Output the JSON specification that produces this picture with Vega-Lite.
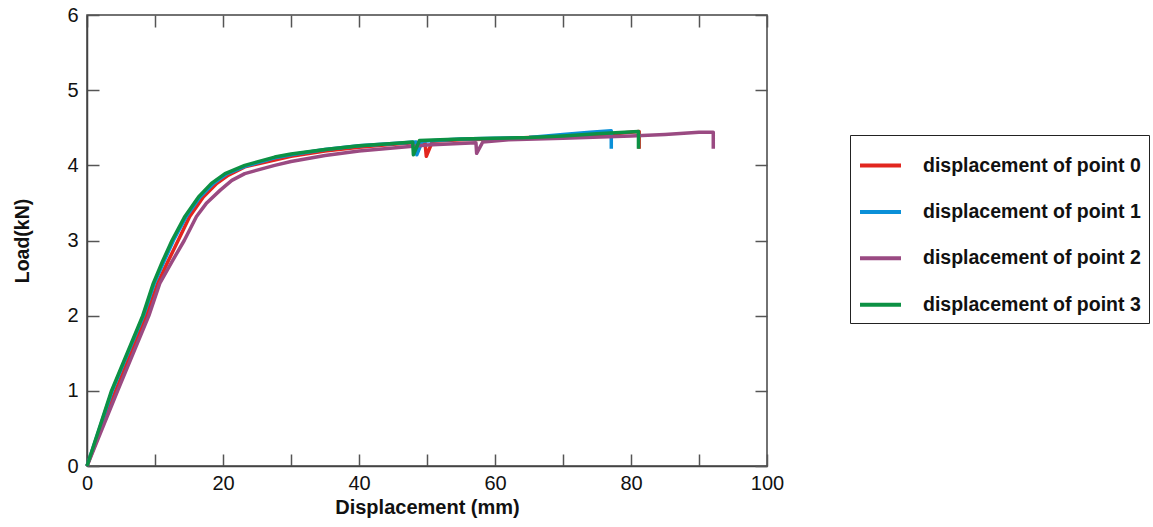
{
  "$schema": "https://vega.github.io/schema/vega-lite/v6.json",
  "width": 680,
  "height": 451,
  "padding": {"left": 87, "top": 15, "right": 386, "bottom": 61},
  "autosize": {"type": "none"},
  "background": "white",
  "config": {
    "view": {"stroke": "#444", "strokeWidth": 1.5},
    "font": "Liberation Sans",
    "axis": {"labelFont": "Liberation Sans", "titleFont": "Liberation Sans", "labelColor": "#111", "titleColor": "#111", "grid": false},
    "legend": {"labelFont": "Liberation Sans"}
  },
  "data": {"values": [
    {"s": "displacement of point 0", "i": 0, "x": 0, "y": 0},
    {"s": "displacement of point 0", "i": 1, "x": 4.2, "y": 1},
    {"s": "displacement of point 0", "i": 2, "x": 8.7, "y": 2},
    {"s": "displacement of point 0", "i": 3, "x": 10.4, "y": 2.43},
    {"s": "displacement of point 0", "i": 4, "x": 11.9, "y": 2.72},
    {"s": "displacement of point 0", "i": 5, "x": 13.4, "y": 3},
    {"s": "displacement of point 0", "i": 6, "x": 15.1, "y": 3.32},
    {"s": "displacement of point 0", "i": 7, "x": 17.1, "y": 3.58},
    {"s": "displacement of point 0", "i": 8, "x": 19.1, "y": 3.76},
    {"s": "displacement of point 0", "i": 9, "x": 20.8, "y": 3.87},
    {"s": "displacement of point 0", "i": 10, "x": 23.2, "y": 3.98},
    {"s": "displacement of point 0", "i": 11, "x": 27.6, "y": 4.07},
    {"s": "displacement of point 0", "i": 12, "x": 30, "y": 4.12},
    {"s": "displacement of point 0", "i": 13, "x": 35, "y": 4.19},
    {"s": "displacement of point 0", "i": 14, "x": 40, "y": 4.24},
    {"s": "displacement of point 0", "i": 15, "x": 45, "y": 4.28},
    {"s": "displacement of point 0", "i": 16, "x": 49.7, "y": 4.31},
    {"s": "displacement of point 0", "i": 17, "x": 49.9, "y": 4.12},
    {"s": "displacement of point 0", "i": 18, "x": 50.8, "y": 4.32},
    {"s": "displacement of point 0", "i": 19, "x": 55, "y": 4.34},
    {"s": "displacement of point 0", "i": 20, "x": 60, "y": 4.35},
    {"s": "displacement of point 0", "i": 21, "x": 65, "y": 4.37},
    {"s": "displacement of point 0", "i": 22, "x": 70, "y": 4.38},
    {"s": "displacement of point 0", "i": 23, "x": 75, "y": 4.4},
    {"s": "displacement of point 0", "i": 24, "x": 81.2, "y": 4.45},
    {"s": "displacement of point 0", "i": 25, "x": 81.2, "y": 4.22},

    {"s": "displacement of point 1", "i": 0, "x": 0, "y": 0},
    {"s": "displacement of point 1", "i": 1, "x": 3.7, "y": 1},
    {"s": "displacement of point 1", "i": 2, "x": 8.3, "y": 2},
    {"s": "displacement of point 1", "i": 3, "x": 9.9, "y": 2.43},
    {"s": "displacement of point 1", "i": 4, "x": 11.3, "y": 2.72},
    {"s": "displacement of point 1", "i": 5, "x": 12.7, "y": 3},
    {"s": "displacement of point 1", "i": 6, "x": 14.6, "y": 3.32},
    {"s": "displacement of point 1", "i": 7, "x": 16.6, "y": 3.58},
    {"s": "displacement of point 1", "i": 8, "x": 18.6, "y": 3.76},
    {"s": "displacement of point 1", "i": 9, "x": 20.6, "y": 3.89},
    {"s": "displacement of point 1", "i": 10, "x": 23.3, "y": 3.99},
    {"s": "displacement of point 1", "i": 11, "x": 27.6, "y": 4.1},
    {"s": "displacement of point 1", "i": 12, "x": 30, "y": 4.14},
    {"s": "displacement of point 1", "i": 13, "x": 35, "y": 4.21},
    {"s": "displacement of point 1", "i": 14, "x": 40, "y": 4.26},
    {"s": "displacement of point 1", "i": 15, "x": 45, "y": 4.29},
    {"s": "displacement of point 1", "i": 16, "x": 48.4, "y": 4.31},
    {"s": "displacement of point 1", "i": 17, "x": 48.5, "y": 4.14},
    {"s": "displacement of point 1", "i": 18, "x": 49.3, "y": 4.32},
    {"s": "displacement of point 1", "i": 19, "x": 55, "y": 4.35},
    {"s": "displacement of point 1", "i": 20, "x": 60, "y": 4.36},
    {"s": "displacement of point 1", "i": 21, "x": 65, "y": 4.37},
    {"s": "displacement of point 1", "i": 22, "x": 70, "y": 4.41},
    {"s": "displacement of point 1", "i": 23, "x": 74, "y": 4.44},
    {"s": "displacement of point 1", "i": 24, "x": 77.1, "y": 4.46},
    {"s": "displacement of point 1", "i": 25, "x": 77.1, "y": 4.22},

    {"s": "displacement of point 2", "i": 0, "x": 0, "y": 0},
    {"s": "displacement of point 2", "i": 1, "x": 4.5, "y": 1},
    {"s": "displacement of point 2", "i": 2, "x": 9.1, "y": 2},
    {"s": "displacement of point 2", "i": 3, "x": 10.7, "y": 2.43},
    {"s": "displacement of point 2", "i": 4, "x": 12.5, "y": 2.72},
    {"s": "displacement of point 2", "i": 5, "x": 14.3, "y": 3},
    {"s": "displacement of point 2", "i": 6, "x": 16.1, "y": 3.32},
    {"s": "displacement of point 2", "i": 7, "x": 17.6, "y": 3.5},
    {"s": "displacement of point 2", "i": 8, "x": 19.6, "y": 3.67},
    {"s": "displacement of point 2", "i": 9, "x": 21.3, "y": 3.8},
    {"s": "displacement of point 2", "i": 10, "x": 23.2, "y": 3.89},
    {"s": "displacement of point 2", "i": 11, "x": 27.6, "y": 4.0},
    {"s": "displacement of point 2", "i": 12, "x": 30, "y": 4.05},
    {"s": "displacement of point 2", "i": 13, "x": 35, "y": 4.13},
    {"s": "displacement of point 2", "i": 14, "x": 40, "y": 4.19},
    {"s": "displacement of point 2", "i": 15, "x": 45, "y": 4.23},
    {"s": "displacement of point 2", "i": 16, "x": 50, "y": 4.27},
    {"s": "displacement of point 2", "i": 17, "x": 57.2, "y": 4.3},
    {"s": "displacement of point 2", "i": 18, "x": 57.3, "y": 4.16},
    {"s": "displacement of point 2", "i": 19, "x": 58.2, "y": 4.31},
    {"s": "displacement of point 2", "i": 20, "x": 62, "y": 4.34},
    {"s": "displacement of point 2", "i": 21, "x": 70, "y": 4.36},
    {"s": "displacement of point 2", "i": 22, "x": 80, "y": 4.39},
    {"s": "displacement of point 2", "i": 23, "x": 85, "y": 4.41},
    {"s": "displacement of point 2", "i": 24, "x": 90, "y": 4.44},
    {"s": "displacement of point 2", "i": 25, "x": 92.1, "y": 4.44},
    {"s": "displacement of point 2", "i": 26, "x": 92.1, "y": 4.22},

    {"s": "displacement of point 3", "i": 0, "x": 0, "y": 0},
    {"s": "displacement of point 3", "i": 1, "x": 3.6, "y": 1},
    {"s": "displacement of point 3", "i": 2, "x": 8.2, "y": 2},
    {"s": "displacement of point 3", "i": 3, "x": 9.75, "y": 2.43},
    {"s": "displacement of point 3", "i": 4, "x": 11.1, "y": 2.72},
    {"s": "displacement of point 3", "i": 5, "x": 12.5, "y": 3},
    {"s": "displacement of point 3", "i": 6, "x": 14.4, "y": 3.32},
    {"s": "displacement of point 3", "i": 7, "x": 16.4, "y": 3.58},
    {"s": "displacement of point 3", "i": 8, "x": 18.3, "y": 3.76},
    {"s": "displacement of point 3", "i": 9, "x": 20.3, "y": 3.89},
    {"s": "displacement of point 3", "i": 10, "x": 23.2, "y": 4.0},
    {"s": "displacement of point 3", "i": 11, "x": 27.6, "y": 4.11},
    {"s": "displacement of point 3", "i": 12, "x": 30, "y": 4.15},
    {"s": "displacement of point 3", "i": 13, "x": 35, "y": 4.21},
    {"s": "displacement of point 3", "i": 14, "x": 40, "y": 4.26},
    {"s": "displacement of point 3", "i": 15, "x": 45, "y": 4.29},
    {"s": "displacement of point 3", "i": 16, "x": 47.9, "y": 4.31},
    {"s": "displacement of point 3", "i": 17, "x": 48, "y": 4.14},
    {"s": "displacement of point 3", "i": 18, "x": 48.9, "y": 4.33},
    {"s": "displacement of point 3", "i": 19, "x": 55, "y": 4.35},
    {"s": "displacement of point 3", "i": 20, "x": 60, "y": 4.36},
    {"s": "displacement of point 3", "i": 21, "x": 65, "y": 4.37},
    {"s": "displacement of point 3", "i": 22, "x": 70, "y": 4.39},
    {"s": "displacement of point 3", "i": 23, "x": 75, "y": 4.42},
    {"s": "displacement of point 3", "i": 24, "x": 81.1, "y": 4.45},
    {"s": "displacement of point 3", "i": 25, "x": 81.1, "y": 4.22}
  ]},
  "layer": [
    {
      "mark": {"type": "line", "strokeWidth": 3.5, "strokeJoin": "round"},
      "encoding": {
        "x": {"field": "x", "type": "quantitative", "scale": {"domain": [0, 100], "nice": false, "zero": false},
          "axis": {"orient": "bottom", "values": [0, 10, 20, 30, 40, 50, 60, 70, 80, 90, 100], "labelExpr": "datum.value % 20 == 0 ? datum.label : ''",
            "title": "Displacement (mm)", "titleFontSize": 20, "titleFontWeight": "bold", "titlePadding": 4,
            "labelFontSize": 20, "labelPadding": 19, "tickSize": -12, "tickColor": "#555", "tickWidth": 1.5, "domainColor": "#444", "domainWidth": 1.5, "labelFlush": false}},
        "y": {"field": "y", "type": "quantitative", "scale": {"domain": [0, 6], "nice": false, "zero": false},
          "axis": {"orient": "left", "values": [0, 1, 2, 3, 4, 5, 6],
            "title": "Load(kN)", "titleFontSize": 19.5, "titleFontWeight": "bold", "titlePadding": 34,
            "labelFontSize": 20, "labelPadding": 21, "tickSize": -12, "tickColor": "#555", "tickWidth": 1.5, "domainColor": "#444", "domainWidth": 1.5, "labelFlush": false}},
        "color": {"field": "s", "type": "nominal",
          "scale": {"domain": ["displacement of point 0", "displacement of point 1", "displacement of point 2", "displacement of point 3"], "range": ["#e2261f", "#0a90d8", "#9a4a82", "#0c9144"]},
          "legend": {"orient": "none", "legendX": 763, "legendY": 120, "title": null, "symbolType": "stroke", "symbolSize": 1681, "symbolStrokeWidth": 4,
            "labelFontSize": 19.5, "labelFontWeight": "bold", "labelColor": "#111", "labelOffset": 20, "rowPadding": 14.4, "padding": 8,
            "strokeColor": "#222", "fillColor": "white", "labelLimit": 400}},
        "order": {"field": "i", "type": "quantitative"}
      }
    },
    {
      "mark": {"type": "line", "opacity": 0},
      "encoding": {
        "x": {"field": "x", "type": "quantitative",
          "axis": {"orient": "top", "values": [0, 10, 20, 30, 40, 50, 60, 70, 80, 90, 100], "labels": false, "title": null, "domain": false, "tickSize": -12, "tickColor": "#555", "tickWidth": 1.5}},
        "y": {"field": "y", "type": "quantitative",
          "axis": {"orient": "right", "values": [0, 1, 2, 3, 4, 5, 6], "labels": false, "title": null, "domain": false, "tickSize": -12, "tickColor": "#555", "tickWidth": 1.5}},
        "detail": {"field": "s"},
        "order": {"field": "i", "type": "quantitative"}
      }
    }
  ],
  "resolve": {"axis": {"x": "independent", "y": "independent"}}
}
